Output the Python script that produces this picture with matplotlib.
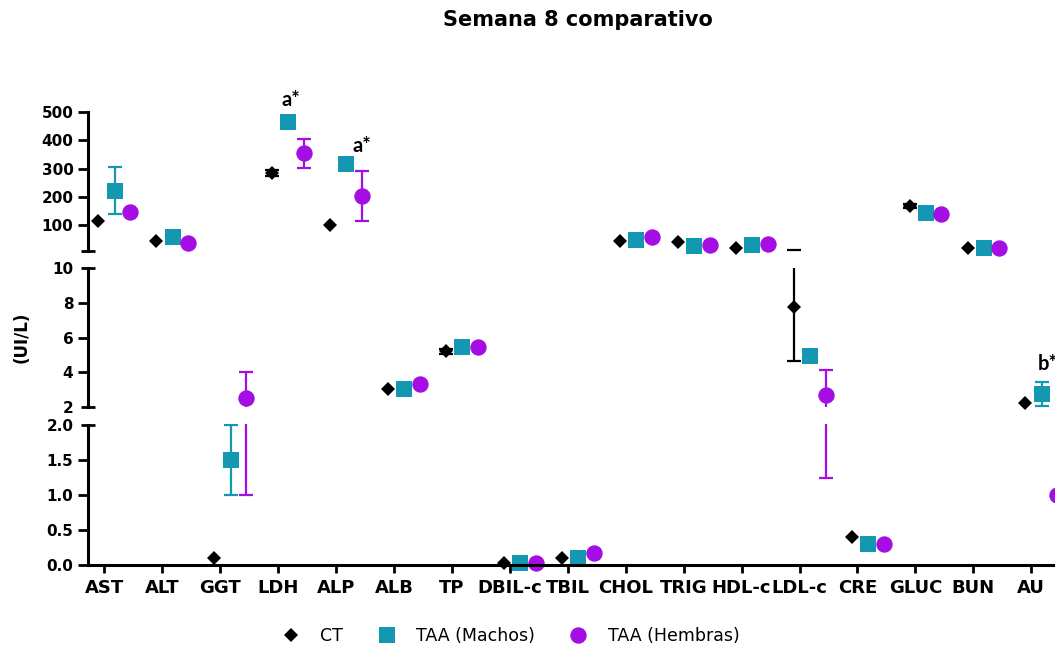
import numpy as np
import matplotlib
matplotlib.use("Agg")
import matplotlib.pyplot as plt
from matplotlib.lines import Line2D

# ── Data ──────────────────────────────────────────────────────────────────────
cats = ['AST', 'ALT', 'GGT', 'LDH', 'ALP', 'ALB', 'TP', 'DBIL-c', 'TBIL',
        'CHOL', 'TRIG', 'HDL-c', 'LDL-c', 'CRE', 'GLUC', 'BUN', 'AU']

ct          = [114, 44, 0.1, 283, 100, 3.05, 5.2, 0.03, 0.1, 43, 40, 19, 7.76, 0.4, 168, 20, 2.25]
ct_err      = [0, 0, 0, 10, 0, 0, 0.15, 0, 0, 0, 0, 0, 3.1, 0, 8, 0, 0]
machos      = [221, 59, 1.5, 466, 316, 3.05, 5.45, 0.03, 0.1, 47, 26, 29, 4.95, 0.3, 143, 20, 2.75]
machos_err  = [83, 0, 0.5, 0, 0, 0, 0.3, 0, 0, 0, 0, 0, 0, 0, 0, 0, 0.7]
hembras     = [147, 37, 2.5, 354, 203, 3.33, 5.45, 0.03, 0.17, 58, 29, 33, 2.7, 0.3, 140, 20, 1.0]
hembras_err = [0, 0, 1.5, 52, 88, 0, 0, 0, 0, 0, 0, 0, 1.45, 0, 0, 0, 0]

# significance labels: (text, category x, value, segment)
notes = [('a*', 3.22, 542, 'top'), ('a*', 4.45, 380, 'top'), ('b*', 16.28, 4.45, 'mid')]

TEAL   = '#1497B0'
PURPLE = '#A50DE5'

series = [
    ('CT',            ct,      ct_err,      'k',    'D', 7.2,  -0.10),
    ('TAA (Machos)',  machos,  machos_err,  TEAL,   's', 11.3,  0.18),
    ('TAA (Hembras)', hembras, hembras_err, PURPLE, 'o', 11.8,  0.45),
]

# ── Figure / broken axes ──────────────────────────────────────────────────────
W, H = 1055, 651
fig = plt.figure(figsize=(W / 100, H / 100), dpi=100)

x0 = np.arange(len(cats))
xlim = (-0.28, 16.7)
step = 57.94
left = 88 / W
width = (xlim[1] - xlim[0]) * step / W

ax_top = fig.add_axes([left, 1 - 251 / H, width, 139 / H])
ax_mid = fig.add_axes([left, 1 - 407 / H, width, 139 / H])
ax_bot = fig.add_axes([left, 1 - 565 / H, width, 141.4 / H])
axes = {'top': ax_top, 'mid': ax_mid, 'bot': ax_bot}

# segment ranges: a value belongs to a segment if lo < v <= hi
seg_range = {'top': (8, 500), 'mid': (2, 10), 'bot': (-1, 2.0)}
ax_top.set_ylim(8, 500)
ax_mid.set_ylim(2, 10)
ax_bot.set_ylim(0, 2.02)

ax_top.set_yticks([100, 200, 300, 400, 500])
ax_mid.set_yticks([2, 4, 6, 8, 10])
ax_bot.set_yticks([0, 0.5, 1.0, 1.5, 2.0])
ax_bot.set_yticklabels(['0.0', '0.5', '1.0', '1.5', '2.0'])

for seg, ax in axes.items():
    lo, hi = seg_range[seg]
    ax.set_xlim(*xlim)
    for name, vals, err, col, mk, ms, off in series:
        xs = x0 + off
        v = np.array(vals, dtype=float)
        e = np.array(err, dtype=float)
        m = e > 0
        if m.any():
            # bars (clipped by the segment), caps only where they fall inside
            ax.errorbar(xs[m], v[m], yerr=e[m], fmt='none', ecolor=col,
                        elinewidth=1.6, capsize=0, zorder=2)
            caps_x = np.concatenate([xs[m], xs[m]])
            caps_y = np.concatenate([v[m] - e[m], v[m] + e[m]])
            inside = (caps_y > lo) & (caps_y <= hi)
            ax.plot(caps_x[inside], caps_y[inside], linestyle='none', marker='_',
                    ms=10.4, mew=1.6, color=col, zorder=2)
        inside = (v > lo) & (v <= hi)
        ax.plot(xs[inside], v[inside], linestyle='none', marker=mk, ms=ms,
                mew=0, color=col, zorder=2.2, clip_on=False)

    ax.spines['top'].set_visible(False)
    ax.spines['right'].set_visible(False)
    ax.spines['left'].set_linewidth(2.2)
    ax.tick_params(axis='y', direction='out', length=7, width=2.0, pad=3.5,
                   labelsize=11)
    for lab in ax.get_yticklabels():
        lab.set_fontweight('bold')

for ax in (ax_top, ax_mid):
    ax.spines['bottom'].set_visible(False)
    ax.tick_params(axis='x', bottom=False, labelbottom=False)

ax_bot.spines['left'].set_bounds(0, 2)
ax_bot.spines['bottom'].set_linewidth(2.2)
ax_bot.set_xticks(x0)
ax_bot.set_xticklabels(cats, fontsize=13, fontweight='bold')
ax_bot.tick_params(axis='x', direction='out', length=6, width=2.0, pad=4)

# centred break bars at segment ends
for ax, ends in ((ax_mid, (2, 10)), (ax_bot, (2.0,))):
    for t in ax.yaxis.get_major_ticks():
        if t.get_loc() in ends:
            t.tick1line.set_marker('_')
            t.tick1line.set_markersize(9.5)
ax_top.plot([0], [8], marker='_', ms=9.5, mew=2.0, color='k',
            transform=ax_top.get_yaxis_transform(), clip_on=False)

for txt, xv, yv, seg in notes:
    axes[seg].text(xv, yv, txt, ha='center', va='center', fontsize=14.5,
                   fontweight='bold', family=['Lato', 'DejaVu Sans'])

# ── Labels, title, legend ─────────────────────────────────────────────────────
fig.text(578 / W, 1 - 20 / H, 'Semana 8 comparativo', ha='center', va='center',
         fontsize=15, fontweight='bold')
fig.text(22 / W, 1 - 337 / H, '(UI/L)', ha='center', va='center', rotation=90,
         fontsize=12, fontweight='bold')

handles = [Line2D([], [], linestyle='none', marker=mk, ms=ms, mew=0, color=col)
           for name, vals, err, col, mk, ms, off in series]
fig.legend(handles, [s[0] for s in series], loc='center',
           bbox_to_anchor=(511 / W, 1 - 636 / H), ncol=3, frameon=False,
           fontsize=12.5, handlelength=1.0, handletextpad=1.2, columnspacing=2.0)

fig.savefig('out.png', dpi=100)
